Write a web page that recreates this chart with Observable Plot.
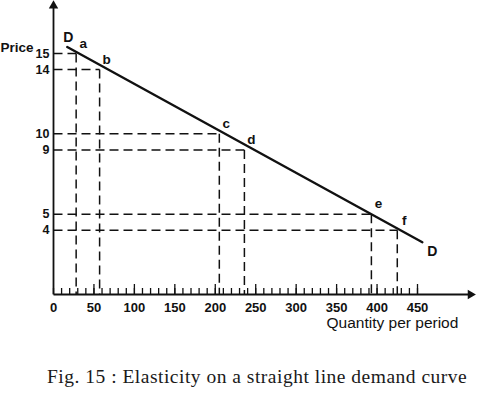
<!DOCTYPE html>
<html><head><meta charset="utf-8">
<script src="https://cdn.jsdelivr.net/npm/d3@7"></script>
<script src="https://cdn.jsdelivr.net/npm/@observablehq/plot@0.6"></script>
<style>
body{margin:0;background:#fff;width:480px;height:394px;overflow:hidden}
#cap{font-family:"Liberation Serif","Times New Roman",serif;font-size:19.5px;letter-spacing:0.5px;line-height:22px;color:#1a1a1a;padding-left:47px;margin-top:26px;white-space:nowrap}
</style></head><body><div id="chart"></div><div id="cap">Fig. 15 : Elasticity on a straight line demand curve</div>
<script>
// Data
const pointNames = ["a", "b", "c", "d", "e", "f"];
const quantities = [28, 57, 205, 236, 393, 425];
const prices = [15, 14, 10, 9, 5, 4];
const demandQ = [17, 456];
const demandP = [15.4, 3.25];
const demandLabels = ["D", "D"];
const xTickValues = [0, 50, 100, 150, 200, 250, 300, 350, 400, 450];
const xMinorTicks = d3.range(0, 451, 10);
const yTickValues = [4, 5, 9, 10, 14, 15];
const xAxisEnd = 513;
const yAxisEnd = 18.1;

const pts = pointNames.map((n, i) => ({name: n, q: quantities[i], p: prices[i]}));
const demand = demandQ.map((q, i) => ({q, p: demandP[i], label: demandLabels[i]}));

const ink = "#111";
const font = "Liberation Sans, Arial, sans-serif";

const chart = Plot.plot({
  width: 480,
  height: 340,
  marginLeft: 53,
  marginRight: 63,
  marginTop: 53,
  marginBottom: 46,
  x: {domain: [0, 450]},
  y: {domain: [0, 15]},
  style: {fontFamily: font, background: "#fff", color: ink},
  marks: [
    // dashed guide lines
    Plot.link(pts, {x1: 0, x2: "q", y1: "p", y2: "p", stroke: ink, strokeWidth: 1.5, strokeDasharray: "9,5"}),
    Plot.link(pts, {x1: "q", x2: "q", y1: "p", y2: 0, stroke: ink, strokeWidth: 1.5, strokeDasharray: "9,5"}),
    // axes lines with arrowheads
    Plot.link([{x1: 0, y1: 0, x2: xAxisEnd, y2: 0}], {x1: "x1", y1: "y1", x2: "x2", y2: "y2", stroke: ink, strokeWidth: 1.8}),
    Plot.link([{x1: 0, y1: 0, x2: 0, y2: yAxisEnd}], {x1: "x1", y1: "y1", x2: "x2", y2: "y2", stroke: ink, strokeWidth: 1.8}),
    Plot.dot([{x: xAxisEnd, y: 0}], {x: "x", y: "y", symbol: "triangle2", rotate: 90, r: 4.5, fill: ink, stroke: "none", dx: 2}),
    Plot.dot([{x: 0, y: yAxisEnd}], {x: "x", y: "y", symbol: "triangle2", r: 4.5, fill: ink, stroke: "none", dy: 2}),
    // x ticks (pointing up)
    Plot.axisX({ticks: xMinorTicks, tickSize: -6, fill: "none", label: null, stroke: ink, strokeWidth: 1.3}),
    Plot.axisX({ticks: xTickValues.slice(1), tickSize: -10, fill: "none", label: null, stroke: ink, strokeWidth: 1.3}),
    Plot.axisX({ticks: xTickValues, tickSize: 0, tickPadding: 8, label: null, fontSize: 13, fill: ink, fontWeight: 600}),
    Plot.axisY({ticks: yTickValues, tickSize: 0, tickPadding: 4, label: null, fontSize: 12.5, fill: ink, fontWeight: 600}),
    // demand line
    Plot.line(demand, {x: "q", y: "p", stroke: ink, strokeWidth: 2.4}),
    // labels
    Plot.text(pts, {x: "q", y: "p", text: "name", dx: 7, dy: -10, fontSize: 13.5, fill: ink, fontWeight: 600}),
    Plot.text(demand.slice(0, 1), {x: "q", y: "p", text: "label", dx: 1, dy: -10, fontSize: 14, fill: ink, fontWeight: 600}),
    Plot.text(demand.slice(1), {x: "q", y: "p", text: "label", dx: 10, dy: 9, fontSize: 14, fill: ink, fontWeight: 600}),
    Plot.text(["Price"], {x: 0, y: 15, text: d => d, dx: -20, dy: -6, textAnchor: "end", fontSize: 13.5, fill: ink, fontWeight: 600}),
    Plot.text(["Quantity per period"], {x: 419, y: 0, text: d => d, dy: 29, fontSize: 15.5, fill: ink})
  ]
});
document.getElementById("chart").append(chart);
</script>
</body></html>
